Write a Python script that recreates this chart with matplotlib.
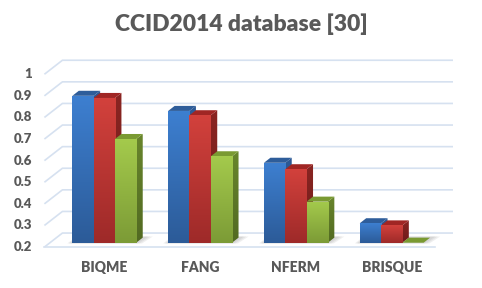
import matplotlib.pyplot as plt
import numpy as np
from matplotlib.patches import Rectangle, Polygon
from matplotlib.colors import to_rgb

categories = ['BIQME', 'FANG', 'NFERM', 'BRISQUE']
series_a = [0.88, 0.81, 0.57, 0.29]   # blue
series_b = [0.87, 0.79, 0.54, 0.28]   # red
series_c = [0.68, 0.60, 0.39, 0.20]   # green
y_ticks = [0.2, 0.3, 0.4, 0.5, 0.6, 0.7, 0.8, 0.9, 1.0]
y_tick_labels = ['0.2', '0.3', '0.4', '0.5', '0.6', '0.7', '0.8', '0.9', '1']
title = 'CCID2014 database [30]'

BASE = 0.2

# pixel geometry of the fake 3d view
W_PX, H_PX = 482, 288
X0, PX_X = 104.3, 95.8     # group 0 centre, pixels per category
Y0, PX_Y = 242.7, 216.0    # pixel of value 0.2 on bar front plane, pixels per unit
SX, SY = 18 / PX_X, 14 / PX_Y   # shift for one depth unit (front -> back wall)
D_FRONT, D_BACK = -0.31, 0.69
BAR_D = 0.36
BAR_W = 21.3 / PX_X

GRID = '#d6e1f0'
TEXT = '#595959'

# (front top, front bottom, side top, side bottom, cap)
STYLES = [
    ('#3d7fd0', '#2c5b98', '#2d5a96', '#24497c', '#2e5d9a'),
    ('#d2413c', '#9e2a29', '#8a2522', '#6e1c1a', '#a02624'),
    ('#a4ca4c', '#7c9b36', '#68852c', '#526a22', '#7a9a32'),
]


def shift(x, y, d):
    return x + d * SX, y + d * SY


def grad_patch(ax, patch, c_top, c_bot, zorder):
    patch.set_facecolor('none')
    patch.set_edgecolor('none')
    ax.add_patch(patch)
    if isinstance(patch, Polygon):
        xy = np.asarray(patch.get_xy())
        x0, y0 = xy.min(axis=0)
        x1, y1 = xy.max(axis=0)
    else:
        x0, y0 = patch.get_xy()
        x1, y1 = x0 + patch.get_width(), y0 + patch.get_height()
    t = np.linspace(0, 1, 64)[:, None]
    img = (1 - t) * np.array(to_rgb(c_top)) + t * np.array(to_rgb(c_bot))
    im = ax.imshow(img[:, None, :], extent=(x0, x1, y0, y1), origin='upper',
                   aspect='auto', interpolation='bilinear', zorder=zorder)
    im.set_clip_path(patch)


fig = plt.figure(figsize=(W_PX / 100, H_PX / 100), dpi=100)
ax = fig.add_axes([0, 0, 1, 1])
ax.axis('off')

# back wall gridlines with diagonal lead-in
xl_front = (50 - X0) / PX_X
xr_back = (453 - X0) / PX_X
for v in y_ticks:
    fx, fy = shift(xl_front, v, D_FRONT)
    bx, by = shift(xl_front, v, D_BACK)
    ax.plot([fx, bx, xr_back], [fy, by, by], color=GRID, lw=1.2, zorder=1,
            solid_capstyle='butt')

# floor front edge
fx, fy = shift(xl_front, BASE, D_FRONT)
ax.plot([fx, xr_back - SX * (D_BACK - D_FRONT)], [fy, fy], color=GRID, lw=1.2, zorder=1)

# tick labels on the front plane
for v, lab in zip(y_ticks, y_tick_labels):
    tx, ty = shift((38 - X0) / PX_X, v, D_FRONT)
    ax.text(tx, ty, lab, ha='right', va='center', fontsize=9.5,
            fontweight='heavy', color=TEXT, family='Lato')

values = [series_a, series_b, series_c]
for i, cat in enumerate(categories):
    left = i - 1.5 * BAR_W
    right = i + 1.5 * BAR_W

    # soft shadow on the floor
    for grow in [0.07, 0.045, 0.02]:
        p = [shift(left - grow * 0.6, BASE, -0.05), shift(right + grow, BASE, -0.05),
             shift(right + grow + 0.02, BASE, BAR_D + 0.08), shift(left - grow * 0.6, BASE, BAR_D + 0.08)]
        ax.add_patch(Polygon(p, closed=True, facecolor='#7f7f7f', alpha=0.12,
                             edgecolor='none', zorder=2))

    for s, vals in enumerate(values):
        v = vals[i]
        x0 = left + s * BAR_W
        x1 = x0 + BAR_W
        c_top, c_bot, s_top, s_bot, c_cap = STYLES[s]
        z = 3 + s * 3
        if v > BASE:
            grad_patch(ax, Rectangle((x0, BASE), BAR_W, v - BASE), c_top, c_bot, z)
            side = Polygon([(x1, BASE), shift(x1, BASE, BAR_D), shift(x1, v, BAR_D), (x1, v)],
                           closed=True)
            grad_patch(ax, side, s_top, s_bot, z - 1)
        cap = [(x0, v), shift(x0, v, BAR_D), shift(x1, v, BAR_D), (x1, v)]
        ax.add_patch(Polygon(cap, closed=True, facecolor=c_cap, edgecolor='none',
                             zorder=z - 1))

    ax.text(i, BASE - (267 - Y0) / PX_Y, cat, ha='center', va='center',
            fontsize=10, fontweight='heavy', color=TEXT, family='Lato')

ax.set_xlim(-X0 / PX_X, (W_PX - X0) / PX_X)
ax.set_ylim(BASE - (H_PX - Y0) / PX_Y, BASE + Y0 / PX_Y)

fig.text(0.5, 1 - 24 / H_PX, title, ha='center', va='center', fontsize=16.5,
         fontweight='heavy', color=TEXT, family='Lato')

fig.savefig('out.png', dpi=100)
